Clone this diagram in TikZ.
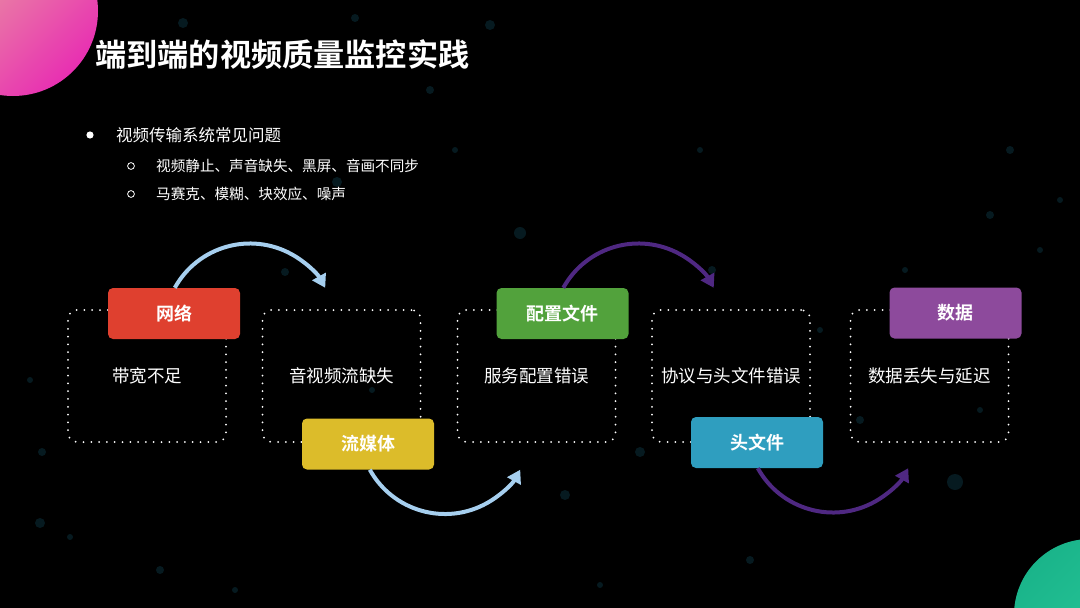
\documentclass[tikz,border=0pt]{standalone}
\usepackage{fontspec}
\usetikzlibrary{arrows.meta}
\newfontfamily\cjk{Noto Sans CJK SC}[BoldFont={Noto Sans CJK SC Bold}]
\definecolor{tagred}{HTML}{DF402F}
\definecolor{tagyellow}{HTML}{DCBC2A}
\definecolor{taggreen}{HTML}{52A23C}
\definecolor{tagblue}{HTML}{2F9EBF}
\definecolor{tagpurple}{HTML}{8D4A9C}
\definecolor{arrblue}{HTML}{A6CFEF}
\definecolor{arrpurple}{HTML}{4F2882}
\definecolor{dotteal}{HTML}{0E3A48}
\definecolor{pinkA}{HTML}{EAA59E}
\definecolor{pinkB}{HTML}{E82FB2}
\definecolor{greenA}{HTML}{1AB48A}
\definecolor{greenB}{HTML}{2BCB9C}
\tikzset{
  dbox/.style={draw=white, line width=2pt, dash pattern=on 0pt off 7.8pt, line cap=round,
    rounded corners=9pt, minimum width=158pt, minimum height=132pt, inner sep=0pt,
    text=white, font=\cjk\fontsize{17.5}{20}\selectfont},
  tagbox/.style={rounded corners=5pt, minimum width=132pt, minimum height=51pt, inner sep=0pt,
    text=white, font=\cjk\bfseries\fontsize{18}{21}\selectfont},
  arr/.style={line width=4pt, -{Triangle[length=13pt,width=15pt]}},
  bgdot/.style={fill=dotteal, opacity=0.45},
  plain/.style={text=white, inner sep=0pt, anchor=west}
}
\begin{document}
\begin{tikzpicture}[x=1pt,y=-1pt]
\fill[black] (0,0) rectangle (1080,608);
\useasboundingbox (0,0) rectangle (1080,608);
% faint background dots
\foreach \px/\py/\r in {183/23/5, 355/18/4, 430/90/4, 490/25/5, 337/182/5, 42/452/4, 40/523/5, 70/537/3,
  520/233/6, 285/272/4, 565/495/5, 712/270/4, 640/452/5, 750/560/4, 905/270/3, 990/215/4, 1040/250/3,
  955/482/8, 980/410/3, 860/420/4, 600/585/3, 160/570/4, 235/590/3, 1060/200/3, 700/150/3, 1010/150/4,
  372/390/3, 30/380/3, 820/330/3, 455/150/3}
  \fill[bgdot] (\px,\py) circle[radius=\r];
% corner circles
\shade[left color=pinkA, right color=pinkB, shading angle=45] (13,11) circle[radius=85];
\shade[left color=greenA, right color=greenB, shading angle=45] (1090,615) circle[radius=76];
% title and bullets
\node[plain, font=\cjk\bfseries\fontsize{31.2}{36}\selectfont] (title) at (95,55) {端到端的视频质量监控实践};
\fill[white] (90,135) circle[radius=3.6];
\node[plain, font=\cjk\fontsize{16.5}{20}\selectfont] (l1) at (116,135) {视频传输系统常见问题};
\draw[white, line width=0.8pt] (131,166) circle[radius=3.4];
\node[plain, font=\cjk\fontsize{14.6}{18}\selectfont] (l2) at (156,166) {视频静止、声音缺失、黑屏、音画不同步};
\draw[white, line width=0.8pt] (131,194) circle[radius=3.4];
\node[plain, font=\cjk\fontsize{14.6}{18}\selectfont] (l3) at (156,194) {马赛克、模糊、块效应、噪声};
% dotted boxes
\node[dbox] (b1) at (147,376) {带宽不足};
\node[dbox] (b2) at (341.5,376) {音视频流缺失};
\node[dbox] (b3) at (536.5,376) {服务配置错误};
\node[dbox] (b4) at (731,376) {协议与头文件错误};
\node[dbox] (b5) at (929.5,376) {数据丢失与延迟};
% tags
\node[tagbox, fill=tagred] (t1) at (174,313.5) {网络};
\node[tagbox, fill=tagyellow] (t2) at (368,444) {流媒体};
\node[tagbox, fill=taggreen] (t3) at (562.5,313.5) {配置文件};
\node[tagbox, fill=tagblue] (t4) at (757,442.5) {头文件};
\node[tagbox, fill=tagpurple] (t5) at (955.5,313) {数据};
% arrows
\draw[arr, arrblue] ([xshift=67pt]t1.north west) arc[start angle=-151, end angle=-29, radius=86];
\draw[arr, arrblue] ([xshift=68pt]t2.south west) arc[start angle=151, end angle=29, radius=86];
\draw[arr, arrpurple] ([xshift=67pt]t3.north west) arc[start angle=-151, end angle=-29, radius=86];
\draw[arr, arrpurple] ([xshift=67pt]t4.south west) arc[start angle=151, end angle=29, radius=86];
\end{tikzpicture}
\end{document}
